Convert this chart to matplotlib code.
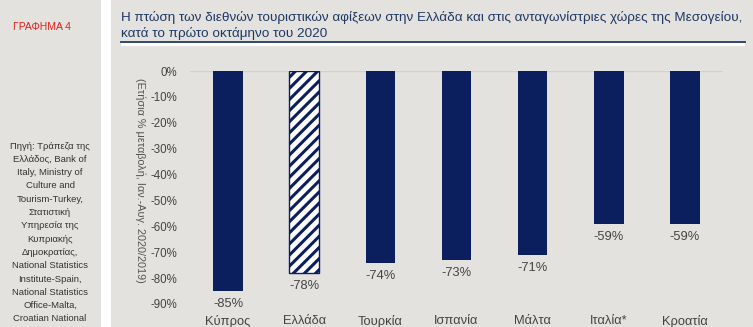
import matplotlib.pyplot as plt
from matplotlib.lines import Line2D
from matplotlib.patches import Rectangle

plt.rcParams['font.family'] = ['Liberation Sans', 'DejaVu Sans']
plt.rcParams['hatch.linewidth'] = 2.2

countries = ["Κύπρος", "Ελλάδα", "Τουρκία", "Ισπανία", "Μάλτα", "Ιταλία*", "Κροατία"]
changes = [-85, -78, -74, -73, -71, -59, -59]
yticks = [0, -10, -20, -30, -40, -50, -60, -70, -80, -90]

source_lines = ["Πηγή: Τράπεζα της", "Ελλάδος, Bank of", "Italy, Ministry of",
                "Culture and", "Tourism-Turkey,", "Στατιστική", "Υπηρεσία της",
                "Κυπριακής", "Δημοκρατίας,", "National Statistics",
                "Institute-Spain,", "National Statistics", "Office-Malta,",
                "Croatian National"]

W, H = 753, 327
bg = "#e4e2de"
navy = "#0b1f5e"
txt = "#444444"

fig = plt.figure(figsize=(W / 100, H / 100), dpi=100, facecolor=bg)


def px(x, y):
    return x / W, 1 - y / H


# white vertical strip between the side panel and the chart
fig.add_artist(Rectangle((100.5 / W, 0), 11 / W, 1, transform=fig.transFigure,
                         facecolor="white", edgecolor="none"))

fig.text(*px(42, 27), "ΓΡΑΦΗΜΑ 4", color="#e0231f", fontsize=7.5,
         ha="center", va="center")

y0 = 146
for i, line in enumerate(source_lines):
    fig.text(*px(50, y0 + i * 13.3), line, color="#333333", fontsize=6.8,
             ha="center", va="center")

fig.text(*px(121, 17), "Η πτώση των διεθνών τουριστικών αφίξεων στην Ελλάδα και "
         "στις ανταγωνίστριες χώρες της Μεσογείου,", color="#1f3864",
         fontsize=9.7, ha="left", va="center")
fig.text(*px(121, 34), "κατά το πρώτο οκτάμηνο του 2020", color="#1f3864",
         fontsize=9.7, ha="left", va="center")

# title underline
fig.add_artist(Rectangle((121 / W, 1 - 46 / H), 624 / W, 4.5 / H,
                         transform=fig.transFigure, facecolor="white",
                         edgecolor="none"))
fig.add_artist(Line2D([121 / W, 745 / W], [1 - 41.5 / H, 1 - 41.5 / H],
                      transform=fig.transFigure, color="#1f3864", lw=1.3))

fig.text(*px(140, 180), "(Ετήσια % μεταβολή, Ιαν.-Αυγ. 2020/2019)", color="#555555",
         fontsize=7.8, rotation=270, ha="center", va="center")

ax = fig.add_axes([190 / W, 23 / H, 533 / W, 233 / H])
ax.set_facecolor(bg)
ax.axhline(0, color="#d3d1cd", lw=1, zorder=1)

x = list(range(len(countries)))
bars = ax.bar(x, changes, width=0.39, color=navy, zorder=2)
bars[1].set_facecolor("white")
bars[1].set_edgecolor(navy)
bars[1].set_hatch("///")
bars[1].set_linewidth(1)

for xi, v in zip(x, changes):
    ax.annotate(f"{v}%", (xi, v), xytext=(0, -5), textcoords="offset points",
                ha="center", va="top", fontsize=9.3, color=txt)

ax.set_xlim(-0.5, 6.5)
ax.set_ylim(-90, 0)
ax.set_yticks(yticks)
ax.set_yticklabels([f"{t}%" for t in yticks])
ax.set_xticks(x)
ax.set_xticklabels(countries)
ax.tick_params(axis="y", length=0, pad=9, labelsize=8.3, labelcolor=txt)
ax.tick_params(axis="x", length=0, pad=8, labelsize=9.3, labelcolor=txt)
for s in ax.spines.values():
    s.set_visible(False)

fig.savefig("out.png", dpi=100, facecolor=bg)
